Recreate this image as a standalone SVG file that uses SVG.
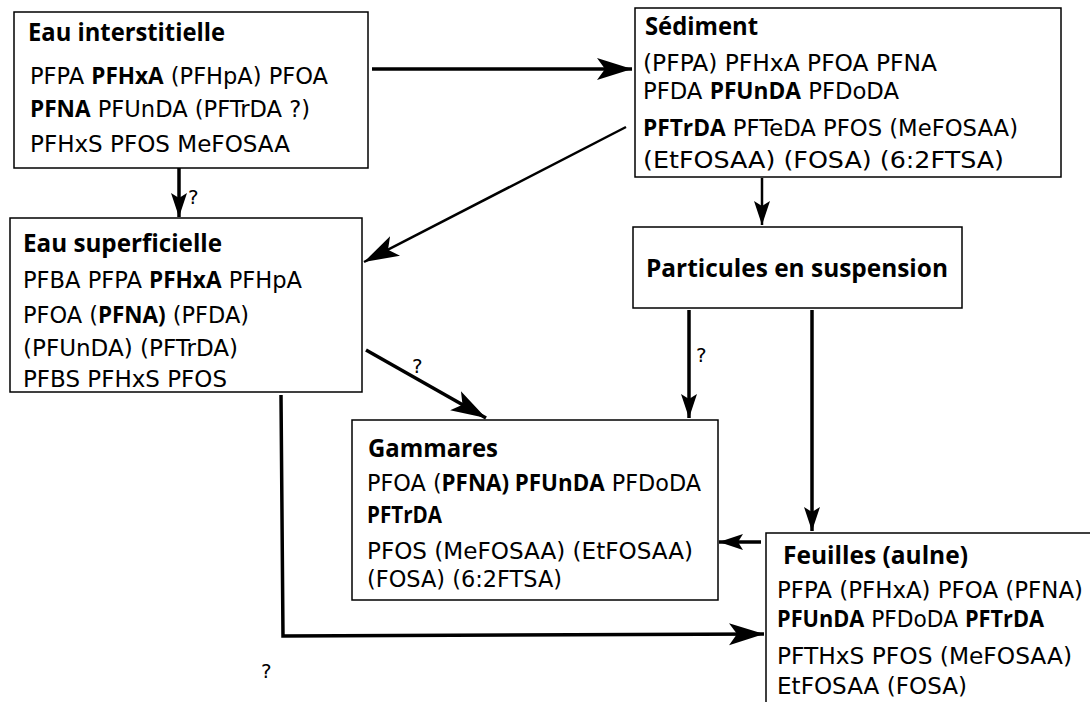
<svg xmlns="http://www.w3.org/2000/svg" width="1090" height="702" viewBox="0 0 1090 702">
<style>
.box{fill:#fff;stroke:#000;stroke-width:1.5}
.t{font-family:"DejaVu Sans",sans-serif;font-size:23px;fill:#000}
.h{font-family:"Open Sans",sans-serif;font-weight:bold;font-size:25px;fill:#000}
.b{font-family:"Open Sans",sans-serif;font-weight:bold}
.q{font-family:"DejaVu Sans",sans-serif;font-size:20px;fill:#000}
.thick{fill:none;stroke:#000;stroke-width:3.5}
.thin{fill:none;stroke:#000;stroke-width:2.5}
</style>
<defs>
<marker id="ah" markerUnits="userSpaceOnUse" markerWidth="40" markerHeight="24" refX="35" refY="11" orient="auto" viewBox="0 0 40 24">
<path d="M35,11 L0,0 L8,11 L0,22 Z" fill="#000"/>
</marker>
<marker id="as" markerUnits="userSpaceOnUse" markerWidth="30" markerHeight="20" refX="24" refY="8" orient="auto" viewBox="0 0 30 20">
<path d="M24,8 L0,0 L5,8 L0,16 Z" fill="#000"/>
</marker>
</defs>
<g id="connectors">
<line class="thick" x1="372" y1="69" x2="632" y2="69" marker-end="url(#ah)"/>
<line class="thick" x1="179" y1="168" x2="179" y2="217" marker-end="url(#as)"/>
<line class="thin" x1="626" y1="127" x2="364" y2="262" marker-end="url(#ah)"/>
<line class="thin" x1="762" y1="178" x2="762" y2="225" marker-end="url(#as)"/>
<line class="thick" x1="689" y1="310" x2="689" y2="418" marker-end="url(#as)"/>
<line class="thick" x1="812" y1="310" x2="812" y2="531" marker-end="url(#as)"/>
<line class="thick" x1="366" y1="350" x2="486" y2="418" marker-end="url(#ah)"/>
<line class="thick" x1="761" y1="542" x2="719" y2="542" marker-end="url(#as)"/>
<polyline class="thick" points="281,395 283,636 764,634" marker-end="url(#ah)"/>
<text class="q" x="188" y="204">?</text>
<text class="q" x="696" y="362">?</text>
<text class="q" x="412" y="373">?</text>
<text class="q" x="261" y="678">?</text>
</g>
<g id="eau-interstitielle">
<rect class="box" x="14" y="12" width="354" height="156"/>
<text class="h" x="28" y="41" textLength="197" lengthAdjust="spacingAndGlyphs">Eau interstitielle</text>
<text class="t" x="30" y="84" textLength="298" lengthAdjust="spacingAndGlyphs">PFPA <tspan class="b">PFHxA</tspan> (PFHpA) PFOA</text>
<text class="t" x="30" y="117" textLength="280" lengthAdjust="spacingAndGlyphs"><tspan class="b">PFNA</tspan> PFUnDA (PFTrDA ?)</text>
<text class="t" x="30" y="152" textLength="260" lengthAdjust="spacingAndGlyphs">PFHxS PFOS MeFOSAA</text>
</g>
<g id="sediment">
<rect class="box" x="635" y="8" width="426" height="169"/>
<text class="h" x="645" y="35" textLength="113" lengthAdjust="spacingAndGlyphs">Sédiment</text>
<text class="t" x="643" y="71" textLength="294" lengthAdjust="spacingAndGlyphs">(PFPA) PFHxA PFOA PFNA</text>
<text class="t" x="643" y="99" textLength="256" lengthAdjust="spacingAndGlyphs">PFDA <tspan class="b">PFUnDA</tspan> PFDoDA</text>
<text class="t" x="643" y="136" textLength="375" lengthAdjust="spacingAndGlyphs"><tspan class="b">PFTrDA</tspan> PFTeDA PFOS (MeFOSAA)</text>
<text class="t" x="643" y="168" textLength="361" lengthAdjust="spacingAndGlyphs">(EtFOSAA) (FOSA) (6:2FTSA)</text>
</g>
<g id="eau-superficielle">
<rect class="box" x="10" y="218" width="352" height="174"/>
<text class="h" x="23" y="252" textLength="199" lengthAdjust="spacingAndGlyphs">Eau superficielle</text>
<text class="t" x="23" y="288" textLength="279" lengthAdjust="spacingAndGlyphs">PFBA PFPA <tspan class="b">PFHxA</tspan> PFHpA</text>
<text class="t" x="23" y="323" textLength="226" lengthAdjust="spacingAndGlyphs">PFOA (<tspan class="b">PFNA)</tspan> (PFDA)</text>
<text class="t" x="23" y="356" textLength="215" lengthAdjust="spacingAndGlyphs">(PFUnDA) (PFTrDA)</text>
<text class="t" x="23" y="387" textLength="204" lengthAdjust="spacingAndGlyphs">PFBS PFHxS PFOS</text>
</g>
<g id="particules">
<rect class="box" x="633" y="227" width="329" height="81"/>
<text class="h" x="646" y="277" textLength="302" lengthAdjust="spacingAndGlyphs">Particules en suspension</text>
</g>
<g id="gammares">
<rect class="box" x="352" y="420" width="366" height="180"/>
<text class="h" x="368" y="457" textLength="130" lengthAdjust="spacingAndGlyphs">Gammares</text>
<text class="t" x="367" y="491" textLength="334" lengthAdjust="spacingAndGlyphs">PFOA (<tspan class="b">PFNA) PFUnDA</tspan> PFDoDA</text>
<text class="t" x="367" y="523" textLength="75" lengthAdjust="spacingAndGlyphs"><tspan class="b">PFTrDA</tspan></text>
<text class="t" x="367" y="559" textLength="326" lengthAdjust="spacingAndGlyphs">PFOS (MeFOSAA) (EtFOSAA)</text>
<text class="t" x="367" y="587" textLength="195" lengthAdjust="spacingAndGlyphs">(FOSA) (6:2FTSA)</text>
</g>
<g id="feuilles">
<rect class="box" x="766" y="533" width="330" height="180"/>
<text class="h" x="783" y="564" textLength="185" lengthAdjust="spacingAndGlyphs">Feuilles (aulne)</text>
<text class="t" x="777" y="598" textLength="306" lengthAdjust="spacingAndGlyphs">PFPA (PFHxA) PFOA (PFNA)</text>
<text class="t" x="777" y="627" textLength="267" lengthAdjust="spacingAndGlyphs"><tspan class="b">PFUnDA</tspan> PFDoDA <tspan class="b">PFTrDA</tspan></text>
<text class="t" x="777" y="664" textLength="295" lengthAdjust="spacingAndGlyphs">PFTHxS PFOS (MeFOSAA)</text>
<text class="t" x="777" y="694" textLength="190" lengthAdjust="spacingAndGlyphs">EtFOSAA (FOSA)</text>
</g>
</svg>
